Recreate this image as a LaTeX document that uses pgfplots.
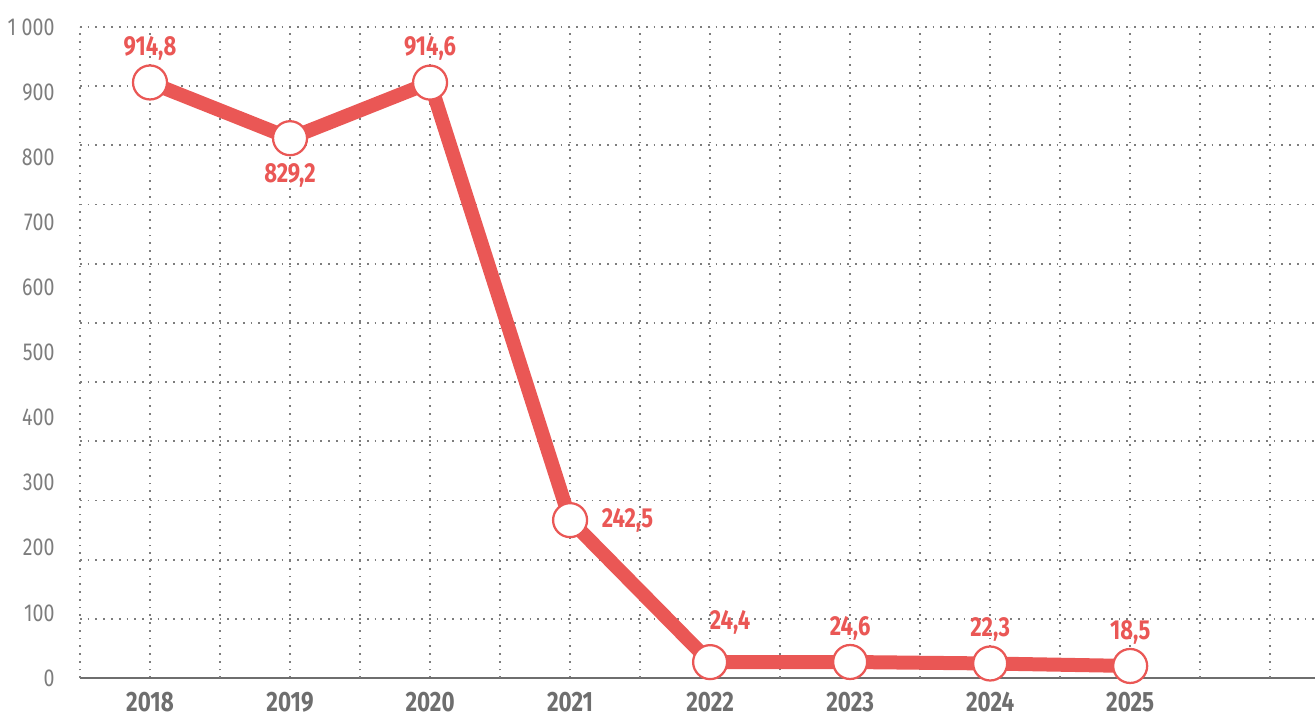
\documentclass[border=0pt]{standalone}
\usepackage{fontspec}
\setmainfont{Fira Sans}[FakeStretch=0.8]
\usepackage{pgfplots}
\pgfplotsset{compat=1.18}
\definecolor{linered}{RGB}{234,87,85}
\definecolor{txtgray}{RGB}{110,110,110}
\definecolor{lblgray}{RGB}{125,125,125}
\definecolor{gridgray}{RGB}{125,125,125}

\begin{document}
\begin{tikzpicture}
% page frame: 1315x719 px at 0.4pt per px, axis box at (0,0)
\useasboundingbox (-32pt,-16.4pt) rectangle (494pt,271.2pt);
\begin{axis}[
  at={(0,0)}, anchor=south west,
  scale only axis,
  width=494pt, height=260.4pt,
  xmin=-0.5, xmax=8.32, ymin=0, ymax=1000,
  clip=false,
  axis x line=bottom, axis y line=left,
  x axis line style={-, draw=txtgray, line width=0.8pt},
  y axis line style={draw=none},
  major tick length=0,
  xtick={0,1,2,3,4,5,6,7},
  xticklabels={2018,2019,2020,2021,2022,2023,2024,2025},
  xmajorgrids,
  ytick={0,100,200,300,400,500,600,700,800,900,1000},
  yticklabels={0,100,200,300,400,500,600,700,800,900,1\hspace{2.2pt}000},
  extra x ticks={-0.5,0.5,1.5,2.5,3.5,4.5,5.5,6.5,7.5,8},
  extra x tick labels={},
  extra y ticks={90.91,181.82,272.73,363.64,454.55,545.45,636.36,727.27,818.18,909.09,1000},
  extra y tick labels={},
  extra tick style={grid=major, major tick length=0},
  grid style={gridgray, line width=0.7pt, dash pattern=on 0.7pt off 2.4pt},
  xticklabel style={font=\fontsize{11.2}{12}\selectfont\bfseries, text=txtgray,
    inner sep=0pt, text depth=0pt, yshift=-5.6pt},
  yticklabel style={font=\fontsize{9.8}{12}\selectfont, text=lblgray,
    inner sep=0pt, xshift=-10pt},
]
\addplot[linered, line width=5.6pt, line join=round, mark=*, mark size=6.8pt,
  mark options={fill=white, draw=linered, line width=0.9pt}]
  coordinates {(0,914.8) (1,829.2) (2,914.6) (3,242.5) (4,24.4) (5,24.6) (6,22.3) (7,18.5)};
% labels above
\addplot[draw=none, mark=none, nodes near coords, point meta=explicit symbolic,
  every node near coord/.append style={anchor=center, yshift=13.6pt,
    font=\fontsize{11}{12}\selectfont\bfseries, text=linered}]
  coordinates {(0,914.8) [914,8] (2,914.6) [914,6] (5,24.6) [24,6] (6,22.3) [22,3] (7,18.5) [18,5]};
% label below
\addplot[draw=none, mark=none, nodes near coords, point meta=explicit symbolic,
  every node near coord/.append style={anchor=center, yshift=-14.8pt,
    font=\fontsize{11}{12}\selectfont\bfseries, text=linered}]
  coordinates {(1,829.2) [829,2]};
% label right
\addplot[draw=none, mark=none, nodes near coords, point meta=explicit symbolic,
  every node near coord/.append style={anchor=center, xshift=23pt,
    font=\fontsize{11}{12}\selectfont\bfseries, text=linered}]
  coordinates {(3,242.5) [242,5]};
% label above right
\addplot[draw=none, mark=none, nodes near coords, point meta=explicit symbolic,
  every node near coord/.append style={anchor=center, xshift=8pt, yshift=16pt,
    font=\fontsize{11}{12}\selectfont\bfseries, text=linered}]
  coordinates {(4,24.4) [24,4]};
\end{axis}
\end{tikzpicture}
\end{document}
